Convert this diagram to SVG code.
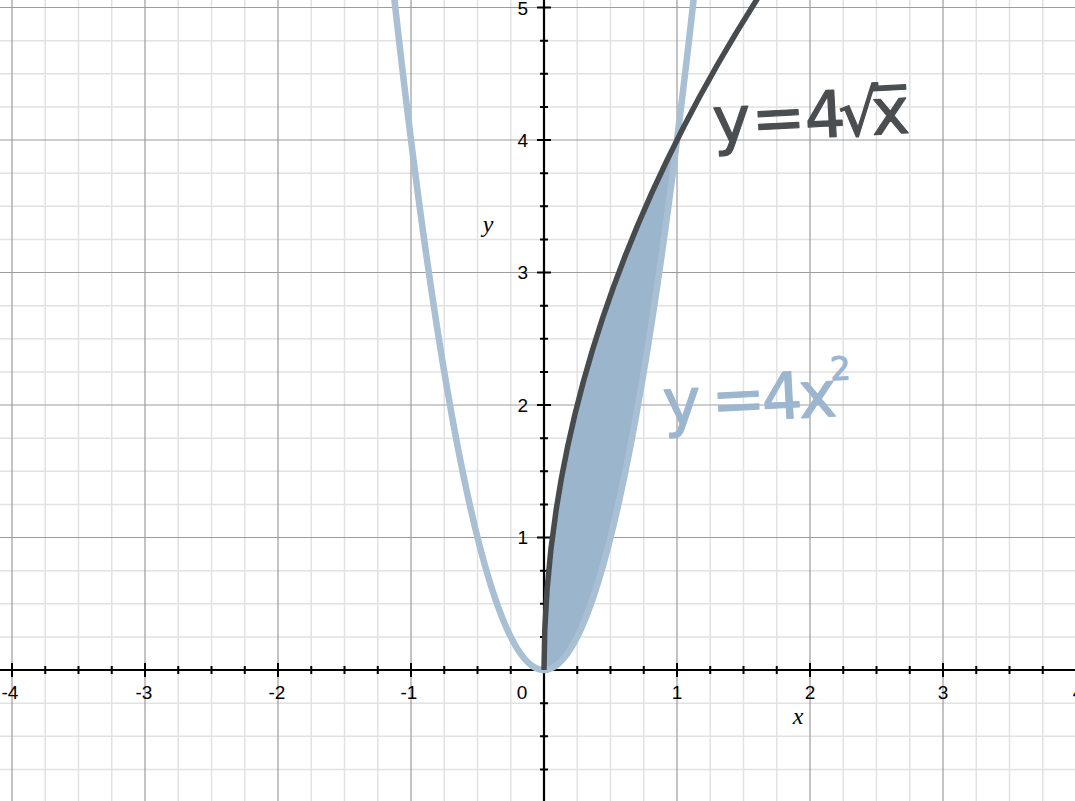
<svg xmlns="http://www.w3.org/2000/svg" width="1075" height="801" viewBox="0 0 1075 801">
<style>
.minor{stroke:#e2e2e2;stroke-width:1.5;fill:none}
.major{stroke:#9c9c9c;stroke-width:1.2;fill:none}
.axis{stroke:#000;stroke-width:2.2;fill:none}
.tick{stroke:#000;stroke-width:2;fill:none}
.num{font-family:"Liberation Sans",Arial,sans-serif;font-size:19px;fill:#000}
.var{font-family:"Liberation Serif","Times New Roman",serif;font-style:italic;font-size:24px;fill:#000}
.hand{font-family:"DejaVu Sans",sans-serif;font-size:64px;stroke-width:1.2;stroke-linejoin:round;stroke-linecap:round}
</style>
<rect width="1075" height="801" fill="#fff"/>
<g id="grid">
<path class="minor" d="M45.25 0V801M78.5 0V801M111.75 0V801M178.25 0V801M211.5 0V801M244.75 0V801M311.25 0V801M344.5 0V801M377.75 0V801M444.25 0V801M477.5 0V801M510.75 0V801M577.25 0V801M610.5 0V801M643.75 0V801M710.25 0V801M743.5 0V801M776.75 0V801M843.25 0V801M876.5 0V801M909.75 0V801M976.25 0V801M1009.5 0V801M1042.75 0V801M0 769.375H1075M0 736.25H1075M0 703.125H1075M0 636.875H1075M0 603.75H1075M0 570.625H1075M0 504.375H1075M0 471.25H1075M0 438.125H1075M0 371.875H1075M0 338.75H1075M0 305.625H1075M0 239.375H1075M0 206.25H1075M0 173.125H1075M0 106.875H1075M0 73.75H1075M0 40.625H1075"/>
<path class="major" d="M12 0V801M145 0V801M278 0V801M411 0V801M677 0V801M810 0V801M943 0V801M0 537.5H1075M0 405H1075M0 272.5H1075M0 140H1075M0 7.5H1075"/>
</g>
<g id="axes">
<path class="axis" d="M0 670H1075M544 0V801"/>
<path class="tick" d="M45.25 666V674M78.5 666V674M111.75 666V674M178.25 666V674M211.5 666V674M244.75 666V674M311.25 666V674M344.5 666V674M377.75 666V674M444.25 666V674M477.5 666V674M510.75 666V674M577.25 666V674M610.5 666V674M643.75 666V674M710.25 666V674M743.5 666V674M776.75 666V674M843.25 666V674M876.5 666V674M909.75 666V674M976.25 666V674M1009.5 666V674M1042.75 666V674"/>
<path class="tick" d="M12 663V677M145 663V677M278 663V677M411 663V677M677 663V677M810 663V677M943 663V677M1076 663V677"/>
<path class="tick" d="M540 769.375H548M540 736.25H548M540 703.125H548M540 636.875H548M540 603.75H548M540 570.625H548M540 504.375H548M540 471.25H548M540 438.125H548M540 371.875H548M540 338.75H548M540 305.625H548M540 239.375H548M540 206.25H548M540 173.125H548M540 106.875H548M540 73.75H548M540 40.625H548"/>
<path class="tick" d="M537 537.5H551M537 405H551M537 272.5H551M537 140H551M537 7.5H551"/>
</g>
<g id="region">
<path d="M544 670Q544 405 677 140Q610.5 670 544 670Z" fill="#9bb5cd"/>
</g>
<g id="curve-4x2">
<path d="M393.7 -6.76Q544 1346.76 694.3 -6.76" fill="none" stroke="#a9bfd4" stroke-width="6.5"/>
</g>
<g id="curve-4sqrtx">
<path d="M544 670Q544 332.1 760.2 -5.75" fill="none" stroke="#474b4d" stroke-width="5.5"/>
</g>
<g id="tick-labels" class="num">
<text x="10" y="699" text-anchor="middle">-4</text>
<text x="144" y="699" text-anchor="middle">-3</text>
<text x="277" y="699" text-anchor="middle">-2</text>
<text x="409" y="699" text-anchor="middle">-1</text>
<text x="522" y="699" text-anchor="middle">0</text>
<text x="677" y="699" text-anchor="middle">1</text>
<text x="810" y="699" text-anchor="middle">2</text>
<text x="943" y="699" text-anchor="middle">3</text>
<text x="1078" y="699" text-anchor="middle">4</text>
<text x="528" y="544" text-anchor="end">1</text>
<text x="528" y="411.5" text-anchor="end">2</text>
<text x="528" y="279" text-anchor="end">3</text>
<text x="528" y="146.5" text-anchor="end">4</text>
<text x="528" y="15" text-anchor="end">5</text>
</g>
<g id="axis-labels" class="var">
<text x="798" y="724" text-anchor="middle">x</text>
<text x="488" y="232" text-anchor="middle">y</text>
</g>
<g id="label-sqrt">
<text class="hand" y="138" fill="#4a4e50" stroke="#4a4e50" transform="rotate(-3 810 125)"><tspan x="713">y</tspan><tspan x="752">=</tspan><tspan x="805">4</tspan><tspan x="839">√</tspan><tspan x="872">x̅</tspan></text>
</g>
<g id="label-parabola">
<text class="hand" y="420" fill="#9db6cf" stroke="#9db6cf" transform="rotate(-3 760 405)"><tspan x="663">y</tspan><tspan x="712">=</tspan><tspan x="762">4</tspan><tspan x="799">x</tspan><tspan x="832" y="384" font-size="32">2</tspan></text>
</g>
</svg>
